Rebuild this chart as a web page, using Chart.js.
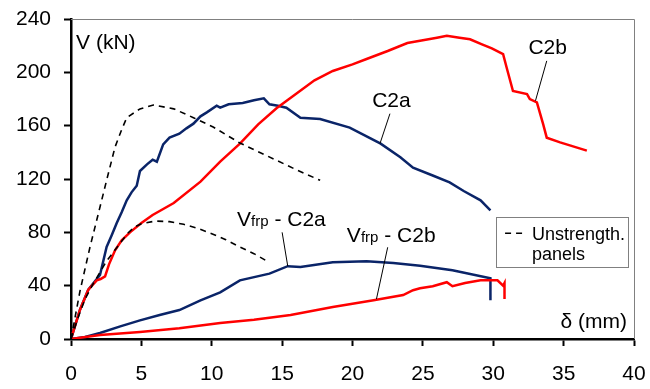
<!DOCTYPE html>
<html>
<head>
<meta charset="utf-8">
<script src="https://cdn.jsdelivr.net/npm/chart.js@4.4.0/dist/chart.umd.min.js"></script>
<style>
    html, body { margin: 0; padding: 0; background: #fff; }
</style>
</head>
<body>
<canvas id="chart" width="650" height="389"></canvas>
<script>
// ===== DATA (displacement mm, shear kN) =====
const xTicks = [0, 5, 10, 15, 20, 25, 30, 35, 40];
const yTicks = [0, 40, 80, 120, 160, 200, 240];

const c2a = [
    [0, 0], [0.64, 22], [1.23, 37], [1.83, 45], [2.06, 48], [2.53, 69], [2.9, 78],
    [3.25, 87], [3.6, 95], [3.96, 104], [4.3, 110], [4.67, 115], [4.9, 126], [5.4, 131],
    [5.8, 134.5], [6.1, 133], [6.55, 146], [7.0, 151], [7.7, 154], [8.2, 158],
    [8.7, 161.5], [9.2, 167], [9.65, 170], [10.35, 175], [10.6, 173.5], [11.2, 176],
    [12.2, 177], [13, 179], [13.7, 180.5], [14.1, 176], [14.7, 175], [15.3, 173.5],
    [16.3, 166], [17.7, 165], [19.8, 158.5], [22, 146.5], [23.4, 136.3], [24.3, 128.5],
    [25.7, 122.6], [26.9, 117.4], [27.9, 111], [29.1, 104], [29.8, 96.5]
];

const c2b = [
    [0, 0], [0.64, 22], [1.23, 37], [1.83, 44], [2.1, 45], [2.42, 47], [2.7, 56],
    [3.13, 66.5], [3.6, 74], [4.19, 80], [5, 87], [5.8, 93], [7.3, 102], [9.2, 118],
    [10.6, 133], [12, 146.5], [13.3, 161], [14.6, 173], [16, 184], [17.3, 194],
    [18.6, 201], [20, 206], [21, 210], [22.5, 216], [23.9, 222], [25, 224], [26, 226],
    [26.7, 227.5], [27.6, 226], [28.35, 224.8], [29.2, 221], [29.9, 218], [30.7, 213.6],
    [30.95, 203.6], [31.4, 186], [32.4, 183.7], [32.6, 180], [33.1, 177.4],
    [33.55, 161], [33.8, 151], [34.75, 147.5], [36.65, 141.3]
];

const vfrpC2a = [
    [0, 0], [1, 1.5], [2.06, 4.5], [3.5, 9.5], [4.9, 14], [6.3, 18], [7.7, 21.7],
    [9.2, 29], [10.6, 35], [12, 44], [14.1, 49], [15.4, 54.6], [16.3, 54],
    [18.6, 57.6], [21, 58.3], [22.9, 57], [24.8, 55], [27.1, 51.6], [29.8, 45.6],
    [29.8, 29]
];

const vfrpC2b = [
    [0, 0], [2.06, 3], [4.9, 5.2], [7.7, 8], [10.6, 12], [13, 14.5], [15.6, 18],
    [18.6, 24], [21.5, 29], [23.6, 33], [24.3, 36.6], [24.8, 38], [25.7, 39.6],
    [26.7, 42.6], [27.1, 39.6], [28, 42], [29.1, 44], [30.3, 44], [30.7, 40],
    [30.8, 42], [30.8, 30]
];

const unstrUpper = [
    [0, 0], [0.64, 36], [1.35, 69], [2.06, 99], [2.53, 119], [3.13, 144], [3.6, 157],
    [3.96, 166], [4.9, 172.6], [5.85, 175.5], [7.3, 172.6], [8.7, 166], [10.1, 159],
    [12, 147], [14, 137], [16, 127], [17.7, 119]
];

const unstrLower = [
    [0, 0], [0.5, 16], [1, 30], [1.5, 40], [2, 49], [2.5, 58], [3, 65], [3.5, 72],
    [4, 79], [4.5, 84], [5, 86.5], [6, 88.5], [7, 88], [8, 86], [9, 83], [10, 79],
    [11, 74.5], [12, 69], [13, 64], [14, 58]
];

const unstrLabel = ['Unstrength.', 'panels'];

// ===== STYLE =====
const RED = '#ff0000';
const BLUE = '#0a2468';
const FONT = '"Liberation Sans", Arial, sans-serif';

function toPoints(arr) {
    return arr.map(p => ({ x: p[0], y: p[1] }));
}

function lineSet(label, data, color, width, dash) {
    return {
        label: label,
        data: toPoints(data),
        borderColor: color,
        borderWidth: width,
        borderDash: dash || [],
        showLine: true,
        pointRadius: 0,
        fill: false,
        tension: 0
    };
}

// Текстовые подписи (в координатах данных)
const notes = [
    { parts: [['V (kN)', 21]], x: 0.36, y: 217.6 },
    { parts: [['C2a', 21]], x: 21.4, y: 173.8 },
    { parts: [['C2b', 21]], x: 32.5, y: 213.5 },
    { parts: [['V', 21], ['frp', 15], [' - C2a', 21]], x: 11.8, y: 84.5 },
    { parts: [['V', 21], ['frp', 15], [' - C2b', 21]], x: 19.6, y: 72.7 },
    { parts: [['δ (mm)', 21]], x: 39.5, y: 8.2, align: 'right' }
];

const leaders = [
    [[22.66, 169], [21.95, 146.5]],
    [[33.8, 208.6], [33.0, 178.7]],
    [[15.0, 80], [15.4, 54.6]],
    [[22.5, 68.8], [21.7, 29.9]]
];

const annotationPlugin = {
    id: 'annotations',
    afterDraw(chart) {
        const ctx = chart.ctx;
        const xs = chart.scales.x;
        const ys = chart.scales.y;
        const area = chart.chartArea;

        ctx.save();

        // серая рамка сверху и справа
        ctx.strokeStyle = '#808080';
        ctx.lineWidth = 1;
        ctx.beginPath();
        ctx.moveTo(area.left, area.top + 0.5);
        ctx.lineTo(area.right + 0.5, area.top + 0.5);
        ctx.lineTo(area.right + 0.5, area.bottom);
        ctx.stroke();

        // выноски
        ctx.strokeStyle = '#000';
        ctx.lineWidth = 1;
        leaders.forEach(l => {
            ctx.beginPath();
            ctx.moveTo(xs.getPixelForValue(l[0][0]), ys.getPixelForValue(l[0][1]));
            ctx.lineTo(xs.getPixelForValue(l[1][0]), ys.getPixelForValue(l[1][1]));
            ctx.stroke();
        });

        // подписи
        ctx.fillStyle = '#000';
        ctx.textBaseline = 'alphabetic';
        ctx.textAlign = 'left';
        notes.forEach(n => {
            let total = 0;
            n.parts.forEach(p => {
                ctx.font = p[1] + 'px ' + FONT;
                total += ctx.measureText(p[0]).width;
            });
            let px = xs.getPixelForValue(n.x);
            if (n.align === 'right') px -= total;
            const py = ys.getPixelForValue(n.y);
            n.parts.forEach(p => {
                ctx.font = p[1] + 'px ' + FONT;
                ctx.fillText(p[0], px, py);
                px += ctx.measureText(p[0]).width;
            });
        });

        // легенда
        const bx1 = xs.getPixelForValue(30.2), bx2 = xs.getPixelForValue(39.58);
        const by1 = ys.getPixelForValue(91.2), by2 = ys.getPixelForValue(53.8);
        ctx.fillStyle = '#fff';
        ctx.fillRect(bx1, by1, bx2 - bx1, by2 - by1);
        ctx.strokeStyle = '#808080';
        ctx.strokeRect(Math.round(bx1) + 0.5, Math.round(by1) + 0.5, Math.round(bx2 - bx1), Math.round(by2 - by1));

        const sy = ys.getPixelForValue(79.3);
        ctx.strokeStyle = '#000';
        ctx.lineWidth = 1.5;
        ctx.setLineDash([6, 5]);
        ctx.beginPath();
        ctx.moveTo(xs.getPixelForValue(30.84), sy);
        ctx.lineTo(xs.getPixelForValue(32.4), sy);
        ctx.stroke();
        ctx.setLineDash([]);

        ctx.fillStyle = '#000';
        ctx.font = '18px ' + FONT;
        ctx.fillText(unstrLabel[0], xs.getPixelForValue(32.75), ys.getPixelForValue(74.5));
        ctx.fillText(unstrLabel[1], xs.getPixelForValue(32.75), ys.getPixelForValue(59));

        ctx.restore();
    }
};

function renderChart() {
    const ctx = document.getElementById('chart').getContext('2d');

    new Chart(ctx, {
        type: 'scatter',
        data: {
            datasets: [
                lineSet('Unstrength. panels', unstrUpper, '#000', 1.6, [6, 5]),
                lineSet('Unstrength. panels', unstrLower, '#000', 1.6, [6, 5]),
                lineSet('C2b', c2b, RED, 2.5),
                lineSet('Vfrp - C2b', vfrpC2b, RED, 2.5),
                lineSet('C2a', c2a, BLUE, 2.5),
                lineSet('Vfrp - C2a', vfrpC2a, BLUE, 2.5)
            ]
        },
        options: {
            responsive: false,
            animation: false,
            layout: {
                padding: { left: 0, right: 16, top: 19, bottom: 0 }
            },
            plugins: {
                legend: { display: false },
                tooltip: { enabled: false }
            },
            scales: {
                x: {
                    type: 'linear',
                    min: 0,
                    max: 40,
                    afterBuildTicks: axis => { axis.ticks = xTicks.map(v => ({ value: v })); },
                    afterFit: axis => {
                        axis.height = 50;
                        axis.paddingLeft = 0;
                        axis.paddingRight = 0;
                    },
                    ticks: {
                        color: '#000',
                        font: { family: FONT, size: 21 },
                        padding: 16,
                        maxRotation: 0
                    },
                    grid: {
                        drawOnChartArea: false,
                        drawTicks: true,
                        tickLength: 7,
                        tickWidth: 2,
                        tickColor: '#000'
                    },
                    border: { display: true, color: '#000', width: 2.5 }
                },
                y: {
                    type: 'linear',
                    min: 0,
                    max: 240,
                    afterBuildTicks: axis => { axis.ticks = yTicks.map(v => ({ value: v })); },
                    afterFit: axis => {
                        axis.width = 71;
                        axis.paddingTop = 0;
                        axis.paddingBottom = 0;
                    },
                    ticks: {
                        color: '#000',
                        font: { family: FONT, size: 21 },
                        padding: 13
                    },
                    grid: {
                        drawOnChartArea: false,
                        drawTicks: true,
                        tickLength: 7,
                        tickWidth: 2,
                        tickColor: '#000'
                    },
                    border: { display: true, color: '#000', width: 2.5 }
                }
            }
        },
        plugins: [annotationPlugin]
    });
}

document.addEventListener('DOMContentLoaded', renderChart);
</script>
</body>
</html>
